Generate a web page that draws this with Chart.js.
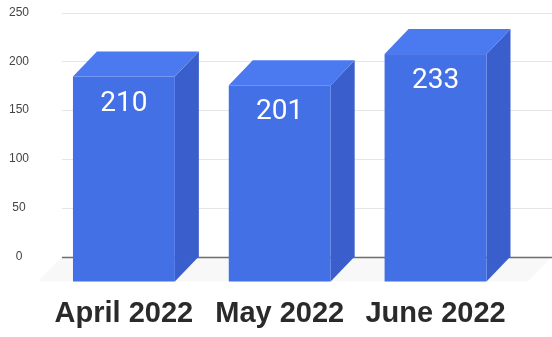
<!DOCTYPE html>
<html>
<head>
<meta charset="utf-8">
<script src="https://cdn.jsdelivr.net/npm/chart.js@4/dist/chart.umd.min.js"></script>
<style>
  html, body { margin: 0; padding: 0; background: #ffffff; }
  #wrap { width: 552px; height: 337px; }
</style>
</head>
<body>
<div id="wrap"><canvas id="chart" width="552" height="337"></canvas></div>
<script>
// Monthly totals, April to June 2022
const categories = ['April 2022', 'May 2022', 'June 2022'];
const totals = [210, 201, 233];
const yTickValues = [0, 50, 100, 150, 200, 250];

// Depth of the 3D boxes (back face is offset right and up from the front face)
const depthX = 24;
const depthY = 25;

const faceFront = '#4470e6';
const faceTop = '#4b79ef';
const faceSide = '#3a5ecb';

const boxes3d = {
  id: 'boxes3d',
  beforeDatasetsDraw(chart) {
    const { ctx, scales: { y }, chartArea } = chart;
    const left = chartArea.left + 16;
    const right = chart.width;
    const y0 = y.getPixelForValue(0);
    ctx.save();
    // floor plane
    ctx.fillStyle = 'rgba(0,0,0,0.028)';
    ctx.beginPath();
    ctx.moveTo(left, y0);
    ctx.lineTo(right, y0);
    ctx.lineTo(right - depthX, y0 + depthY);
    ctx.lineTo(left - depthX, y0 + depthY);
    ctx.closePath();
    ctx.fill();
    // back-wall grid lines
    yTickValues.forEach(v => {
      const py = Math.round(y.getPixelForValue(v)) + 0.5;
      ctx.strokeStyle = v === 0 ? '#6e6e6e' : '#e6e6e6';
      ctx.lineWidth = v === 0 ? 1.5 : 1;
      ctx.beginPath();
      ctx.moveTo(left, py);
      ctx.lineTo(right, py);
      ctx.stroke();
    });
    ctx.restore();
  },
  afterDatasetsDraw(chart) {
    const { ctx } = chart;
    const meta = chart.getDatasetMeta(0);
    ctx.save();
    meta.data.forEach((bar, i) => {
      const { x, y, base, width } = bar.getProps(['x', 'y', 'base', 'width'], true);
      const xl = x - width / 2;
      const xr = x + width / 2;
      const yt = y + depthY;
      const yb = base + depthY;
      // side face
      ctx.fillStyle = faceSide;
      ctx.beginPath();
      ctx.moveTo(xr, yt);
      ctx.lineTo(xr + depthX, yt - depthY);
      ctx.lineTo(xr + depthX, yb - depthY);
      ctx.lineTo(xr, yb);
      ctx.closePath();
      ctx.fill();
      // top face
      ctx.fillStyle = faceTop;
      ctx.beginPath();
      ctx.moveTo(xl, yt);
      ctx.lineTo(xl + depthX, yt - depthY);
      ctx.lineTo(xr + depthX, yt - depthY);
      ctx.lineTo(xr, yt);
      ctx.closePath();
      ctx.fill();
      // front face
      ctx.fillStyle = faceFront;
      ctx.fillRect(xl, yt, width, yb - yt);
      // value label
      ctx.fillStyle = '#ffffff';
      ctx.font = '400 28px Roboto, "Liberation Sans", sans-serif';
      ctx.textAlign = 'center';
      ctx.textBaseline = 'middle';
      ctx.fillText(String(totals[i]), x, yt + 27);
    });
    ctx.restore();
  }
};

new Chart(document.getElementById('chart'), {
  type: 'bar',
  data: {
    labels: categories,
    datasets: [{
      data: totals,
      backgroundColor: 'rgba(0,0,0,0)',
      borderWidth: 0,
      categoryPercentage: 1,
      barPercentage: 0.654
    }]
  },
  options: {
    responsive: false,
    animation: false,
    devicePixelRatio: 1,
    layout: { padding: { top: 12.5, right: 38, bottom: 0, left: 0 } },
    plugins: {
      legend: { display: false },
      tooltip: { enabled: false }
    },
    scales: {
      x: {
        grid: { display: false, drawTicks: false },
        border: { display: false },
        ticks: {
          padding: 40,
          color: '#2a2a2a',
          font: { family: '"Liberation Sans", Arial, sans-serif', size: 29, weight: 'bold' }
        },
        afterFit(scale) { scale.height = 80.5; }
      },
      y: {
        min: 0,
        max: 250,
        grid: { display: false, drawTicks: false },
        border: { display: false },
        ticks: {
          stepSize: 50,
          padding: 17,
          crossAlign: 'center',
          color: '#444444',
          font: { family: '"Liberation Sans", Arial, sans-serif', size: 12 }
        },
        afterFit(scale) {
          scale.width = 46;
          scale.paddingTop = 7;
          scale.paddingBottom = 7;
        }
      }
    }
  },
  plugins: [boxes3d]
});
</script>
</body>
</html>
